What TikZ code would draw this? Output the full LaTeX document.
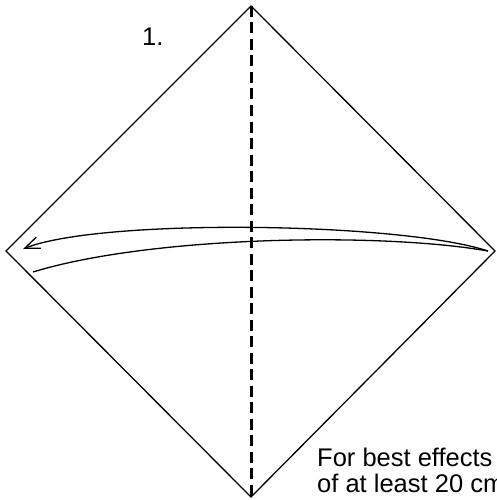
\documentclass[tikz,border=0pt]{standalone}
\usepackage{fontspec}
\setmainfont{Liberation Sans}
\usetikzlibrary{arrows.meta}
\begin{document}
\begin{tikzpicture}[x=1pt,y=-1pt,
  edge/.style={line width=1.3pt, black},
  foldline/.style={line width=3pt, dash pattern=on 11pt off 5.5pt},
  lbl/.style={anchor=base west, inner sep=0pt, font=\fontsize{25.5}{27}\selectfont}]
\useasboundingbox (0,0) rectangle (496,500);
\coordinate (T) at (251,6);
\coordinate (L) at (6,251);
\coordinate (R) at (495,251);
\coordinate (B) at (251,497);
\coordinate (S) at (488,251);
\coordinate (E1) at (23,249);
\coordinate (E2) at (33,272);
\draw[edge, line join=miter] (T) -- (R) -- (B) -- (L) -- cycle;
\draw[foldline] (T) -- (B);
\draw[edge, -{Straight Barb[length=15pt,width=12pt,line width=1.3pt]}] (S) .. controls (400,222) and (100,218) .. (E1);
\draw[edge] (S) .. controls (380,232) and (150,236) .. (E2);
\node[lbl] (n1) at (142,46) {1.};
\node[lbl] (t1) at (317,466) {For best effects};
\node[lbl] (t2) at (317,492) {of at least 20 cm};
\end{tikzpicture}
\end{document}
